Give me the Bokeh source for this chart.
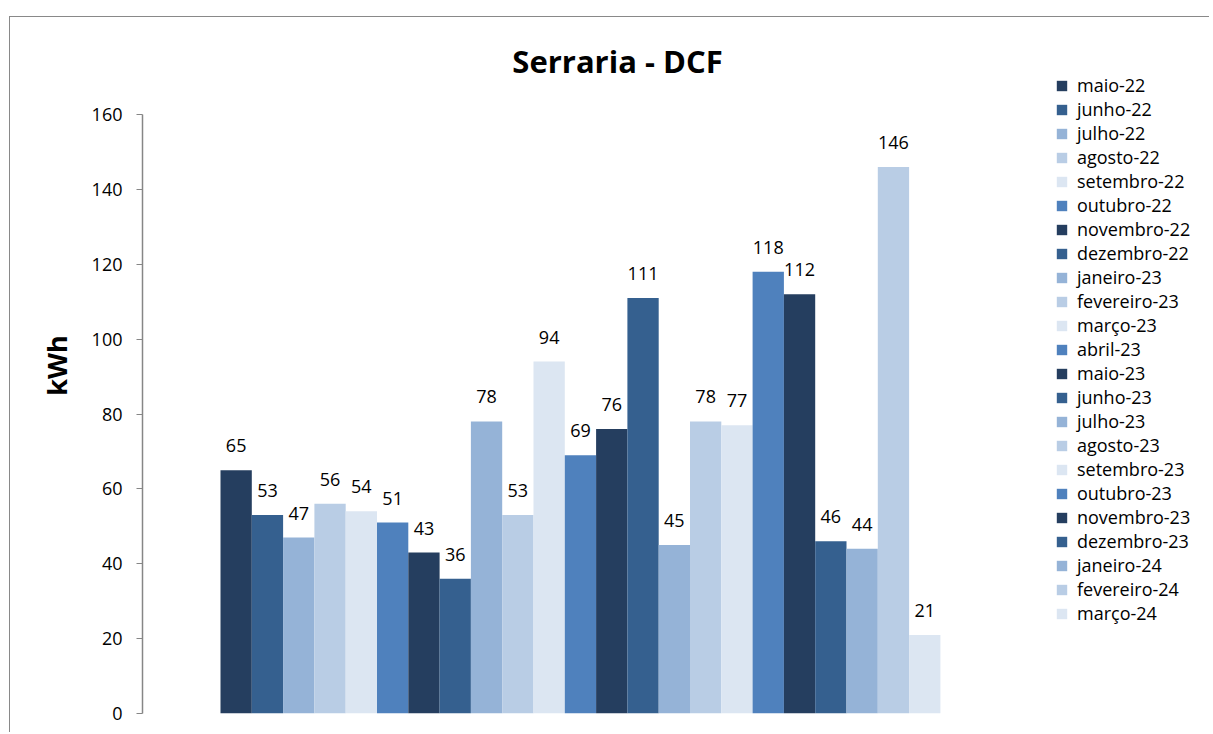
from bokeh.plotting import figure
from bokeh.models import (ColumnDataSource, Range1d, LabelSet, Legend, LegendItem,
                          FixedTicker, Label)
from bokeh.core.properties import value
from bokeh.embed import file_html
from bokeh.resources import INLINE

months = ["maio-22", "junho-22", "julho-22", "agosto-22", "setembro-22", "outubro-22",
          "novembro-22", "dezembro-22", "janeiro-23", "fevereiro-23", "março-23", "abril-23",
          "maio-23", "junho-23", "julho-23", "agosto-23", "setembro-23", "outubro-23",
          "novembro-23", "dezembro-23", "janeiro-24", "fevereiro-24", "março-24"]
values = [65, 53, 47, 56, 54, 51, 43, 36, 78, 53, 94, 69, 76, 111, 45, 78, 77, 118, 112,
          46, 44, 146, 21]
palette = ["#253E5F", "#35608F", "#95B3D7", "#B9CDE5", "#DCE6F2", "#4F81BD"]
y_ticks = [0, 20, 40, 60, 80, 100, 120, 140, 160]
title_text = "Serraria - DCF"
y_label = "kWh"

FONT = "Open Sans"
n = len(values)
xs = [i + 0.5 for i in range(n)]
colors = [palette[i % len(palette)] for i in range(n)]
src = ColumnDataSource(dict(x=xs, v=values, c=colors, m=months,
                            t=[str(v) for v in values]))

W, H = 1200, 716
BL, BB = 132, 20
frame_w = W - BL
frame_h = H - BB
bar_px = 31.3
px_per_unit = 599 / 160.0
x_start = -78 / bar_px
x_end = x_start + frame_w / bar_px
y_end = frame_h / px_per_unit

p = figure(width=W, height=H, output_backend="svg", toolbar_location=None,
           x_range=Range1d(x_start, x_end), y_range=Range1d(0, y_end),
           x_axis_type=None, min_border_left=BL, min_border_right=0,
           min_border_top=0, min_border_bottom=BB)
p.styles = {"margin-top": "16px", "margin-left": "9px",
            "border-left": "1px solid #898989", "border-top": "1px solid #898989"}
p.outline_line_color = None
p.grid.visible = False

r = p.vbar(x="x", top="v", width=1.0, bottom=0, fill_color="c", line_color=None,
           source=src)

labels = LabelSet(x="x", y="v", text="t", source=src, text_align="center",
                  text_baseline="alphabetic", y_offset=18, text_font=value(FONT),
                  text_font_size="18px", text_color="#000000")
p.add_layout(labels)

title = Label(x=617 - 142, y=713 - 60, x_units="screen", y_units="screen",
              text=title_text, text_font=FONT, text_font_size="31px",
              text_font_style="bold", text_align="center", text_baseline="middle",
              text_color="#000000")
p.add_layout(title)

ax = p.yaxis[0]
ax.ticker = FixedTicker(ticks=y_ticks)
ax.bounds = (0, 160)
ax.minor_tick_line_color = None
ax.major_tick_in = 0
ax.major_tick_out = 6
ax.axis_line_color = "#868686"
ax.major_tick_line_color = "#868686"
ax.axis_line_width = 1.5
ax.major_label_standoff = 14
ax.major_label_text_font = FONT
ax.major_label_text_font_size = "18px"
ax.major_label_text_color = "#000000"
ax.axis_label = y_label
ax.axis_label_text_font = FONT
ax.axis_label_text_font_style = "bold"
ax.axis_label_text_font_size = "27px"
ax.axis_label_text_color = "#000000"
ax.axis_label_standoff = 14

items = [LegendItem(label=m, renderers=[r], index=i) for i, m in enumerate(months)]
legend = Legend(items=items, location=(1055 - 142, 713 - 625), margin=0, padding=0,
                glyph_width=13, glyph_height=13, label_height=24, spacing=0,
                label_standoff=9, label_text_font=FONT, label_text_font_size="18px",
                label_text_color="#000000",
                border_line_color=None, background_fill_alpha=0)
p.add_layout(legend, "center")

open("out.html", "w").write(file_html(p, INLINE))
